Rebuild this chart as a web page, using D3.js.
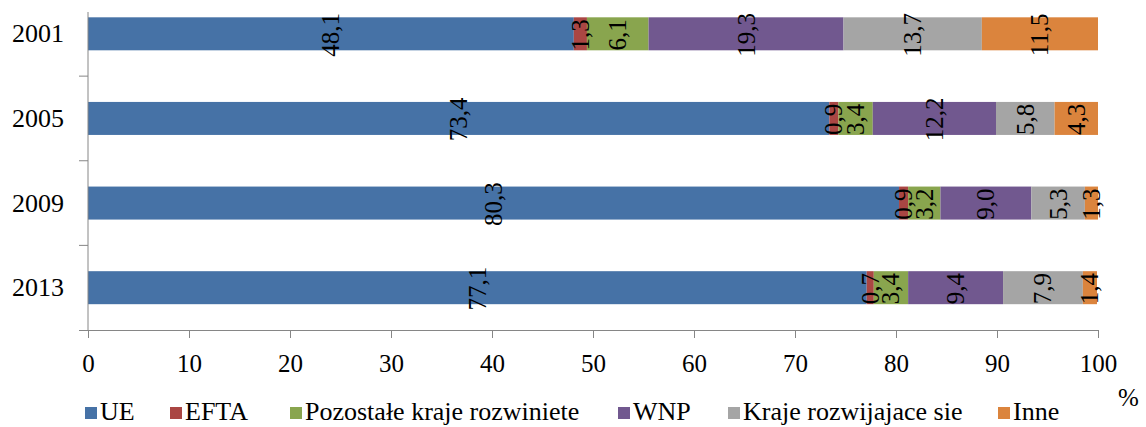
<!DOCTYPE html>
<html lang="pl">
<head>
<meta charset="UTF-8">
<title>Struktura geograficzna</title>
<script src="https://d3js.org/d3.v7.min.js"></script>
<style>
  body { margin: 0; background: #fff; }
  svg text { font-family: 'Liberation Serif', 'DejaVu Serif', serif; }
</style>
</head>
<body>
<svg width="1146" height="427"></svg>
<script>
// data
const years = ['2001', '2005', '2009', '2013'];
const series = ['UE', 'EFTA', 'Pozostałe kraje rozwiniete', 'WNP', 'Kraje rozwijajace sie', 'Inne'];
const colors = ['#4672A6', '#AA4643', '#89A54E', '#71588F', '#A5A5A5', '#DB843D'];
const ue       = [48.1, 73.4, 80.3, 77.1];
const efta     = [1.3, 0.9, 0.9, 0.7];
const pozostale = [6.1, 3.4, 3.2, 3.4];
const wnp      = [19.3, 12.2, 9.0, 9.4];
const rozwij   = [13.7, 5.8, 5.3, 7.9];
const inne     = [11.5, 4.3, 1.3, 1.4];
const xTicks = [0, 10, 20, 30, 40, 50, 60, 70, 80, 90, 100];

const values = [ue, efta, pozostale, wnp, rozwij, inne];
const serif = "'Liberation Serif', 'DejaVu Serif', serif";

const svg = d3.select('svg');
const x = d3.scaleLinear().domain([0, 100]).range([88, 1098]);
const y = d3.scaleBand().domain(years).range([-8.5, 330]).paddingInner(0.61).paddingOuter(0.305);
const axisColor = '#868686';
const fmt = v => d3.format('.1f')(v).replace('.', ',');

// build segments
const segs = [];
years.forEach((yr, i) => {
  let acc = 0;
  series.forEach((s, j) => {
    const v = values[j][i];
    segs.push({ year: yr, series: s, color: colors[j], x0: acc, x1: acc + v, v: v });
    acc += v;
  });
});

svg.append('g').selectAll('rect')
  .data(segs)
  .enter().append('rect')
  .attr('x', d => x(d.x0))
  .attr('y', d => y(d.year))
  .attr('width', d => x(d.x1) - x(d.x0))
  .attr('height', y.bandwidth())
  .attr('fill', d => d.color);

// axes
const step = y.step();
svg.append('line')
  .attr('x1', x(0)).attr('x2', x(0))
  .attr('y1', 12).attr('y2', 330)
  .attr('stroke', axisColor);
years.forEach((yr, i) => {
  const b = y(yr) + y.bandwidth() / 2 + step / 2;
  if (i < years.length - 1) {
    svg.append('line')
      .attr('x1', x(0) - 9).attr('x2', x(0))
      .attr('y1', b).attr('y2', b)
      .attr('stroke', axisColor);
  }
  svg.append('text')
    .attr('x', 64)
    .attr('y', y(yr) + y.bandwidth() / 2)
    .attr('text-anchor', 'end')
    .attr('dominant-baseline', 'central')
    .style('font-family', serif)
    .style('font-size', '26px')
    .text(yr);
});

const xAxis = svg.append('g')
  .attr('transform', 'translate(0,330)')
  .call(d3.axisBottom(x).tickValues(xTicks).tickSize(8).tickSizeOuter(0).tickPadding(16));
xAxis.select('.domain').attr('stroke', axisColor).attr('d', `M${x(0) - 9},0.5H${x(100)}`);
xAxis.selectAll('.tick line').attr('stroke', axisColor);
xAxis.attr('font-family', null).attr('font-size', null);
xAxis.selectAll('.tick text')
  .style('font-size', '25px')
  .style('font-family', serif)
  .attr('fill', '#000');

svg.append('text')
  .attr('x', 1118).attr('y', 406)
  .style('font-family', serif)
  .style('font-size', '25px')
  .text('%');

// value labels, rotated
svg.append('g').selectAll('text')
  .data(segs)
  .enter().append('text')
  .attr('transform', d => `translate(${x((d.x0 + d.x1) / 2)},${y(d.year) + y.bandwidth() / 2 + 1}) rotate(-90)`)
  .attr('text-anchor', 'middle')
  .attr('dominant-baseline', 'central')
  .style('font-family', serif)
  .style('font-size', '25px')
  .text(d => fmt(d.v));

// legend
const legendX = [85, 170, 290, 618, 728, 998];
const legend = svg.append('g');
series.forEach((s, j) => {
  legend.append('rect')
    .attr('x', legendX[j]).attr('y', 407)
    .attr('width', 12).attr('height', 12)
    .attr('fill', colors[j]);
  legend.append('text')
    .attr('x', legendX[j] + 15).attr('y', 420)
    .style('font-family', serif)
    .style('font-size', '26px')
    .text(s);
});
</script>
</body>
</html>
